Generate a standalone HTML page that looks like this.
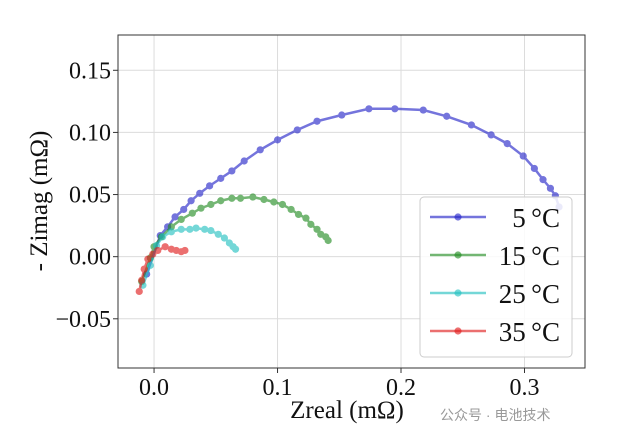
<!DOCTYPE html>
<html><head><meta charset="utf-8"><style>
body{margin:0;background:#fff;}
svg{display:block;font-family:"Liberation Serif",serif;}
</style></head><body>
<svg id="chart" width="628" height="447"></svg>
<script>
const xTicks=[0.0,0.1,0.2,0.3];
const xTickLabels=["0.0","0.1","0.2","0.3"];
const yTicks=[0.15,0.10,0.05,0.00,-0.05];
const yTickLabels=["0.15","0.10","0.05","0.00","\u22120.05"];
const seriesNames=["5\u2009\u00b0C","15\u2009\u00b0C","25\u2009\u00b0C","35\u2009\u00b0C"];
const seriesColors=["#2020c8","#1f8a1f","#20c0c0","#e01818"];
const blueX=[-0.006,0.005,0.011,0.017,0.024,0.030,0.037,0.045,0.054,0.063,0.073,0.086,0.100,0.116,0.132,0.152,0.174,0.195,0.218,0.237,0.257,0.273,0.286,0.299,0.308,0.315,0.321,0.325,0.328];
const blueY=[-0.014,0.017,0.024,0.032,0.038,0.045,0.051,0.057,0.063,0.069,0.077,0.086,0.094,0.102,0.109,0.114,0.119,0.119,0.118,0.113,0.106,0.098,0.091,0.081,0.071,0.062,0.055,0.049,0.040];
const greenX=[-0.010,-0.003,0.000,0.006,0.014,0.022,0.031,0.038,0.046,0.054,0.063,0.070,0.080,0.089,0.097,0.104,0.111,0.117,0.123,0.127,0.132,0.135,0.139,0.141];
const greenY=[-0.020,-0.001,0.008,0.016,0.024,0.030,0.035,0.039,0.042,0.045,0.047,0.047,0.048,0.046,0.044,0.042,0.038,0.034,0.031,0.026,0.022,0.018,0.016,0.013];
const cyanX=[-0.009,-0.003,0.002,0.007,0.014,0.022,0.029,0.034,0.041,0.046,0.052,0.057,0.061,0.064,0.066];
const cyanY=[-0.023,-0.007,0.009,0.016,0.020,0.022,0.022,0.023,0.022,0.021,0.018,0.015,0.011,0.008,0.006];
const redX=[-0.012,-0.010,-0.008,-0.005,-0.001,0.003,0.009,0.014,0.018,0.022,0.025];
const redY=[-0.028,-0.019,-0.010,-0.002,0.002,0.005,0.008,0.006,0.005,0.004,0.005];

const L=118,R=585,T=35,B=368;
const x0=-0.0292,x1=0.349,y0=-0.0896,y1=0.1784;
const sx=v=>L+(v-x0)/(x1-x0)*(R-L);
const sy=v=>B-(v-y0)/(y1-y0)*(B-T);
const NS="http://www.w3.org/2000/svg";
const svg=document.getElementById('chart');
function mk(tag,attrs,parent){const e=document.createElementNS(NS,tag);for(const k in attrs)e.setAttribute(k,attrs[k]);(parent||svg).appendChild(e);return e;}

const grid=mk('g',{});


xTicks.forEach((t,i)=>{
  mk('line',{x1:sx(t),x2:sx(t),y1:T,y2:B,stroke:"#dcdcdc","stroke-width":1},grid);
  mk('line',{x1:sx(t),x2:sx(t),y1:B,y2:B+5,stroke:"#333"},grid);
  const tx=mk('text',{x:sx(t),y:B+27,"text-anchor":"middle","font-size":24,fill:"#111"});
  tx.textContent=xTickLabels[i];
  
  
});
yTicks.forEach((t,i)=>{
  mk('line',{x1:L,x2:R,y1:sy(t),y2:sy(t),stroke:"#dcdcdc","stroke-width":1},grid);
  mk('line',{x1:L-5,x2:L,y1:sy(t),y2:sy(t),stroke:"#333"},grid);
  const tx=mk('text',{x:L-7,y:sy(t)+8,"text-anchor":"end","font-size":24,fill:"#111"});
  tx.textContent=yTickLabels[i];
  
  
});
const frame=mk('rect',{x:L,y:T,width:R-L,height:B-T,fill:"none",stroke:"#333","stroke-width":1});



const allX=[blueX,greenX,cyanX,redX],allY=[blueY,greenY,cyanY,redY];
const keys=["5c","15c","25c","35c"];
allX.forEach((xs,s)=>{
  const g=mk('g',{opacity:0.62});
  
  
  mk('polyline',{points:xs.map((v,i)=>sx(v)+","+sy(allY[s][i])).join(" "),fill:"none",stroke:seriesColors[s],"stroke-width":2.5},g);
  xs.forEach((v,i)=>{
    const c=mk('circle',{cx:sx(v),cy:sy(allY[s][i]),r:3.6,fill:seriesColors[s]},g);
    
    
  });
});

const lg=mk('g',{});


mk('rect',{x:420,y:197,width:152,height:160,rx:4,fill:"#fff","fill-opacity":0.85,stroke:"#ccc"},lg);
seriesNames.forEach((n,i)=>{
  const y=217+i*38;
  const e=mk('g',{},lg);
  
  
  mk('line',{x1:430,x2:486,y1:y,y2:y,stroke:seriesColors[i],"stroke-width":2.5,opacity:0.62},e);
  mk('circle',{cx:458,cy:y,r:3.6,fill:seriesColors[i],opacity:0.62},e);
  const t=mk('text',{x:560,y:y+10,"text-anchor":"end","font-size":27,fill:"#111"},e);
  t.textContent=n;
});

const xt=mk('text',{x:347,y:418,"text-anchor":"middle","font-size":25,fill:"#111"});
xt.textContent="Zreal (m\u03a9)";


const yt=mk('text',{x:0,y:0,"text-anchor":"middle","font-size":25,fill:"#111",transform:"translate(47,201) rotate(-90)"});
yt.textContent="- Zimag (m\u03a9)";


const wm=mk('text',{x:440,y:420,"font-size":14,fill:"#999","font-family":"'Liberation Sans','Noto Sans CJK SC',sans-serif"});
wm.textContent="\u516c\u4f17\u53f7 \u00b7 \u7535\u6c60\u6280\u672f";


</script>
</body></html>
